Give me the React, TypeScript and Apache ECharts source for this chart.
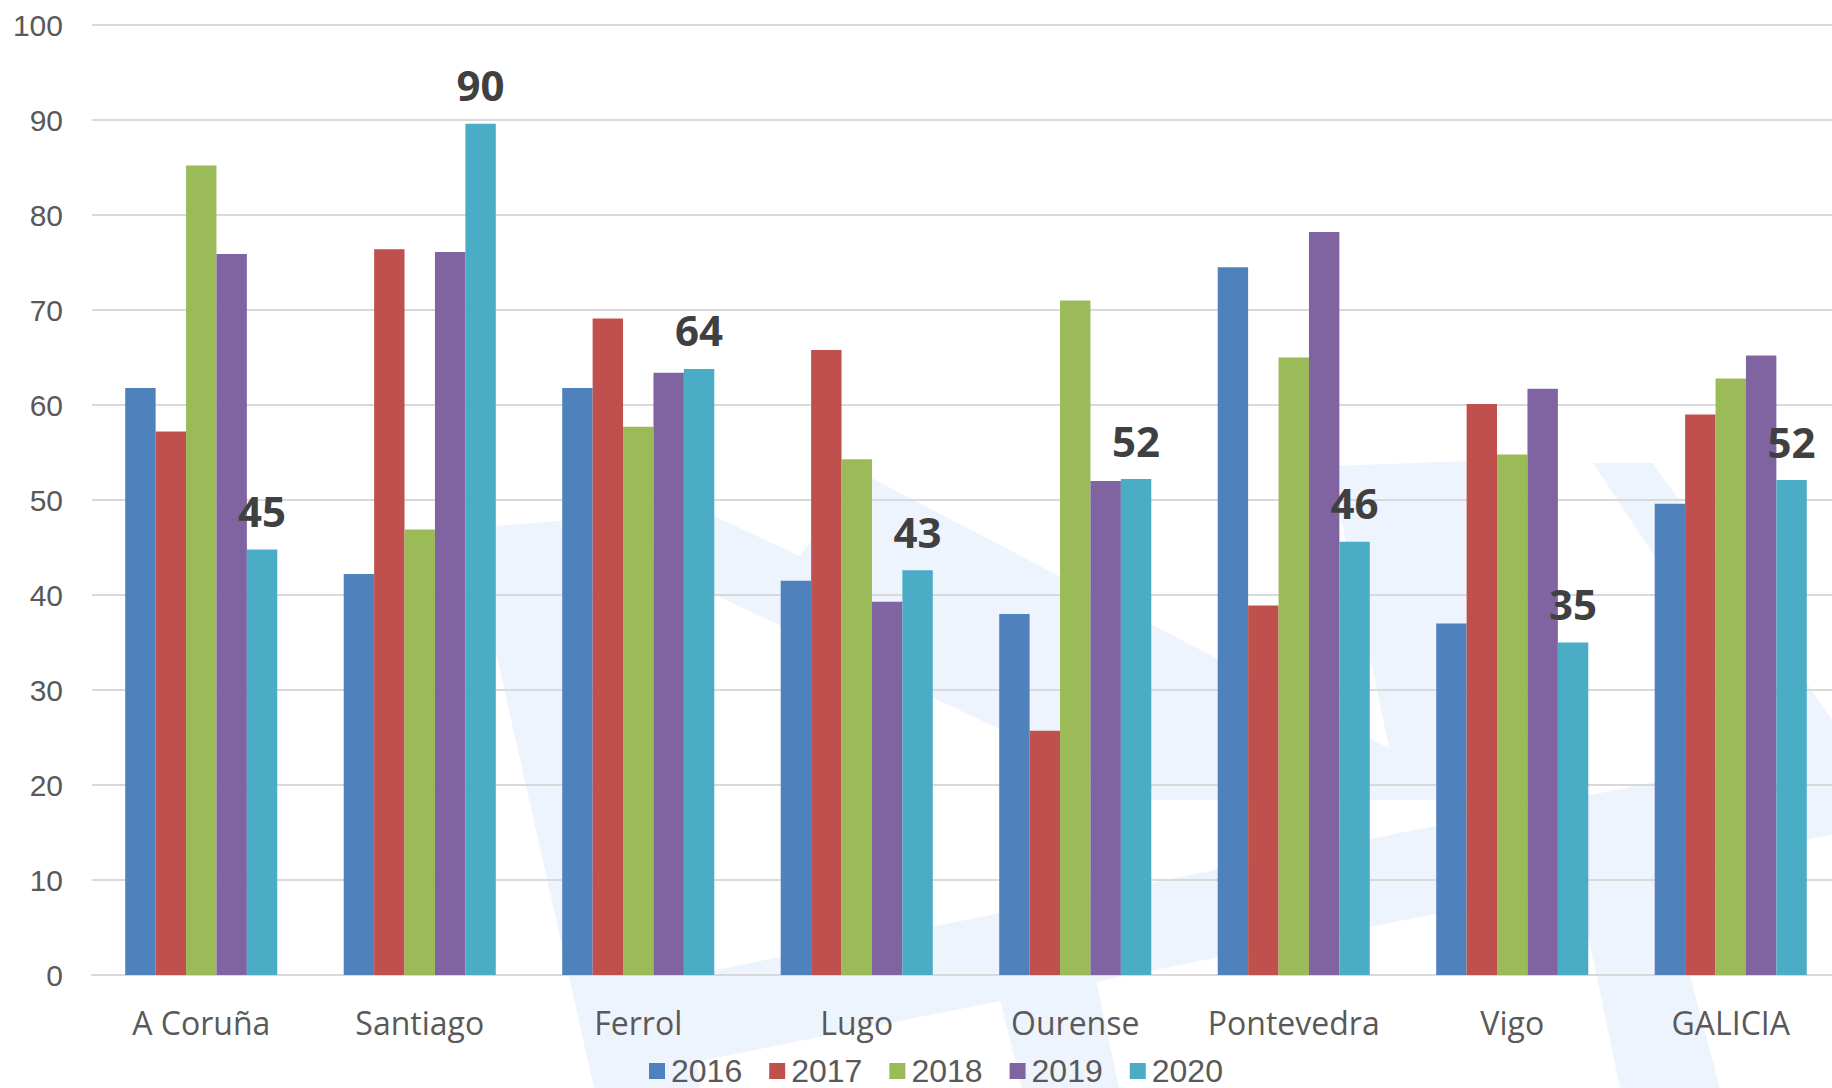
import React, { useEffect, useRef } from "react";
import * as echarts from "echarts";

const categories = ["A Coruña", "Santiago", "Ferrol", "Lugo", "Ourense", "Pontevedra", "Vigo", "GALICIA"];
const years = ["2016", "2017", "2018", "2019", "2020"];
const v2016 = [61.8, 42.2, 61.8, 41.5, 38.0, 74.5, 37.0, 49.6];
const v2017 = [57.2, 76.4, 69.1, 65.8, 25.7, 38.9, 60.1, 59.0];
const v2018 = [85.2, 46.9, 57.7, 54.3, 71.0, 65.0, 54.8, 62.8];
const v2019 = [75.9, 76.1, 63.4, 39.3, 52.0, 78.2, 61.7, 65.2];
const v2020 = [44.8, 89.6, 63.8, 42.6, 52.2, 45.6, 35.0, 52.1];
const yTicks = [0, 10, 20, 30, 40, 50, 60, 70, 80, 90, 100];
const colors = ["#4F81BD", "#C0504D", "#9BBB59", "#8064A2", "#4BACC6"];

const WM = "#EEF4FD";
const wm = (pts: number[][]) => ({
  type: "polygon",
  z: -100,
  silent: true,
  shape: { points: pts },
  style: { fill: WM },
});

export default function App() {
  const ref = useRef<HTMLDivElement>(null);
  useEffect(() => {
    if (!ref.current) return;
    const chart = echarts.init(ref.current, null, { renderer: "svg" });
    const seriesData = [v2016, v2017, v2018, v2019, v2020];
    chart.setOption({
      animation: false,
      backgroundColor: "#FFFFFF",
      graphic: [
        wm([[468, 528], [650, 514], [700, 1088], [594, 1088]]),
        wm([[690, 505], [800, 556], [860, 472], [1396, 752], [1410, 800], [1150, 800], [690, 583]]),
        wm([[1330, 466], [1470, 461], [1540, 800], [1400, 800]]),
        wm([[1593, 463], [1653, 463], [1860, 760], [1860, 867]]),
        wm([[640, 985], [1860, 741], [1860, 829], [620, 1077]]),
        wm([[980, 920], [1080, 905], [1119, 1088], [1022, 1088]]),
        wm([[1560, 800], [1640, 790], [1720, 1088], [1620, 1088]]),
      ],
      legend: {
        data: years,
        left: 649,
        top: 1055,
        padding: 0,
        itemWidth: 16,
        itemHeight: 16,
        itemGap: 27,
        icon: "rect",
        textStyle: { fontFamily: "Liberation Sans", fontSize: 32, color: "#595959", padding: [0, 0, 0, 1] },
      },
      grid: { left: 92, top: 25, width: 1748, height: 950, containLabel: false },
      xAxis: {
        type: "category",
        data: categories,
        axisLine: { lineStyle: { color: "#D9D9D9", width: 2 } },
        axisTick: { show: false },
        axisLabel: { fontFamily: "Open Sans", fontSize: 32, color: "#595959", margin: 31, interval: 0 },
      },
      yAxis: {
        type: "value",
        min: yTicks[0],
        max: yTicks[yTicks.length - 1],
        interval: 10,
        axisLine: { show: false },
        axisTick: { show: false },
        axisLabel: { fontFamily: "Liberation Sans", fontSize: 30, color: "#595959", margin: 29 },
        splitLine: { lineStyle: { color: "#D9D9D9", width: 2 } },
      },
      series: years.map((y, i) => ({
        name: y,
        type: "bar",
        data: seriesData[i],
        barGap: "0%",
        barCategoryGap: "30.4%",
        itemStyle: { color: colors[i] },
        label:
          i === 4
            ? {
                show: true,
                position: "top",
                distance: 18,
                formatter: (p: any) => String(Math.round(p.value)),
                fontFamily: "Open Sans",
                fontWeight: "bold",
                fontSize: 42,
                lineHeight: 42,
                color: "#404040",
              }
            : { show: false },
      })),
    });
    return () => chart.dispose();
  }, []);
  return (
    <div
      ref={ref}
      style={{ position: "fixed", left: 0, top: 0, width: 1860, height: 1088 }}
    />
  );
}
